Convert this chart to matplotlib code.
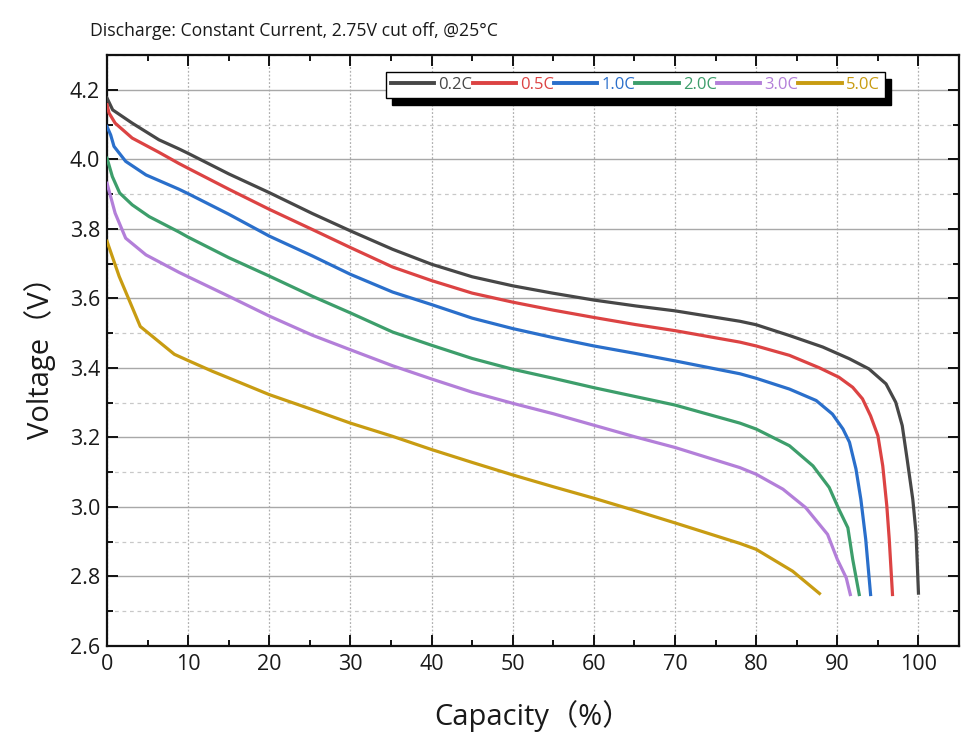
import matplotlib
matplotlib.use("Agg")
import matplotlib.pyplot as plt
from matplotlib.ticker import MultipleLocator, FormatStrFormatter

plt.rcParams['font.family'] = ['Open Sans', 'Noto Sans CJK SC', 'DejaVu Sans']

title = "Discharge: Constant Current, 2.75V cut off, @25°C"
xlabel = "Capacity（%）"
ylabel = "Voltage（V）"

labels = ["0.2C", "0.5C", "1.0C", "2.0C", "3.0C", "5.0C"]
colors = ["#474747", "#dc4343", "#2a6fcb", "#3d9e6b", "#b37fd9", "#c89c12"]

cap02 = [0, 0.7, 3.1, 6.4, 8.85, 10, 15, 20, 25.3, 30, 35.2, 40, 45, 50, 54.9, 60, 65.2, 70, 78, 80, 84.1, 88.2, 91.5, 93.9, 96, 97.2, 98, 98.6, 99.3, 99.7, 100]
v02 = [4.176, 4.142, 4.104, 4.056, 4.03, 4.017, 3.958, 3.904, 3.844, 3.794, 3.741, 3.698, 3.662, 3.636, 3.615, 3.595, 3.578, 3.564, 3.534, 3.524, 3.493, 3.46, 3.426, 3.397, 3.354, 3.301, 3.234, 3.138, 3.022, 2.926, 2.752]

cap05 = [0, 0.25, 1, 3.1, 6.4, 8.85, 10, 15, 20, 25.3, 30, 35.2, 40, 45, 50, 55, 60, 65, 70, 78, 80, 84.1, 87.8, 90.2, 91.9, 93.1, 94.1, 95, 95.6, 96.1, 96.4, 96.8]
v05 = [4.157, 4.133, 4.104, 4.061, 4.02, 3.988, 3.974, 3.914, 3.856, 3.798, 3.746, 3.69, 3.651, 3.615, 3.589, 3.566, 3.545, 3.525, 3.507, 3.474, 3.463, 3.436, 3.40, 3.373, 3.344, 3.311, 3.262, 3.205, 3.118, 3.003, 2.907, 2.748]

cap10 = [0, 0.45, 0.86, 2.3, 4.8, 8.85, 10, 15, 20, 25.3, 30, 35.2, 40, 45, 50, 55, 60, 65, 70, 78, 80, 84.1, 87.4, 89.4, 90.7, 91.5, 92.3, 92.9, 93.5, 94.1]
v10 = [4.094, 4.07, 4.037, 3.994, 3.955, 3.914, 3.901, 3.842, 3.779, 3.722, 3.669, 3.618, 3.582, 3.543, 3.513, 3.487, 3.463, 3.442, 3.42, 3.383, 3.37, 3.339, 3.306, 3.267, 3.224, 3.186, 3.109, 3.022, 2.907, 2.748]

cap20 = [0, 0.66, 1.56, 3.1, 5.2, 8.85, 10, 15, 20, 25.3, 30, 35.2, 40, 45, 50, 55, 60, 65, 70, 78, 80, 84.1, 87, 89, 90.2, 91.3, 91.9, 92.7]
v20 = [4.003, 3.95, 3.903, 3.869, 3.835, 3.791, 3.776, 3.717, 3.664, 3.606, 3.558, 3.503, 3.465, 3.427, 3.396, 3.37, 3.343, 3.318, 3.293, 3.241, 3.224, 3.176, 3.118, 3.056, 2.993, 2.94, 2.849, 2.748]

cap30 = [0, 1, 2.3, 4.8, 8.85, 10, 15, 20, 25.3, 30, 35.2, 40, 45, 50, 55, 60, 65, 70, 78, 80, 83.3, 86.1, 88.8, 90, 91.1, 91.6]
v30 = [3.931, 3.845, 3.773, 3.725, 3.675, 3.662, 3.606, 3.549, 3.494, 3.452, 3.406, 3.368, 3.33, 3.298, 3.268, 3.235, 3.202, 3.171, 3.113, 3.094, 3.051, 2.998, 2.921, 2.849, 2.796, 2.748]

cap50 = [0, 1.5, 4.1, 8.3, 10, 13, 15, 20, 25.3, 30, 35.2, 40, 45, 50, 55, 60, 65, 70, 78, 80, 84.5, 87.8]
v50 = [3.764, 3.663, 3.519, 3.439, 3.421, 3.39, 3.371, 3.323, 3.28, 3.241, 3.203, 3.165, 3.128, 3.092, 3.058, 3.025, 2.99, 2.954, 2.895, 2.878, 2.815, 2.751]

caps = [cap02, cap05, cap10, cap20, cap30, cap50]
volts = [v02, v05, v10, v20, v30, v50]

fig = plt.figure(figsize=(9.8, 7.5), dpi=100)
ax = fig.add_axes([0.1092, 0.1387, 0.8694, 0.788])

for c, v, lab, col in zip(caps, volts, labels, colors):
    ax.plot(c, v, color=col, lw=2.3, label=lab, solid_joinstyle='round', zorder=3)

ax.set_xlim(0, 105)
ax.set_ylim(2.6, 4.3)
ax.xaxis.set_major_locator(MultipleLocator(10))
ax.xaxis.set_minor_locator(MultipleLocator(5))
ax.yaxis.set_major_locator(MultipleLocator(0.2))
ax.yaxis.set_minor_locator(MultipleLocator(0.1))
ax.yaxis.set_major_formatter(FormatStrFormatter('%.1f'))

ax.grid(True, which='major', axis='y', color='#a8a8a8', lw=1.0, ls='-', zorder=0)
ax.grid(True, which='minor', axis='y', color='#c8c8c8', lw=0.9, ls=(0, (3, 3)), zorder=0)
ax.grid(True, which='major', axis='x', color='#b0b0b0', lw=0.9, ls=(0, (1.5, 1.5)), zorder=0)

ax.tick_params(which='both', direction='in', top=True, right=True, width=1.4,
               labelsize=15.5, colors='#111111', labelcolor='#1a1a1a')
ax.tick_params(which='major', length=8)
ax.tick_params(which='minor', length=4.5)
ax.tick_params(axis='x', pad=6)
ax.tick_params(axis='y', pad=5)
for s in ax.spines.values():
    s.set_linewidth(1.6)
    s.set_color('#111111')

ax.set_xlabel(xlabel, fontsize=21, labelpad=18, color='#1a1a1a')
ax.set_ylabel(ylabel, fontsize=21, labelpad=10, color='#1a1a1a')

fig.text(90 / 980, 1 - 31 / 750, title, fontsize=12.7, va='center', ha='left', color='#1a1a1a')

leg = ax.legend(loc='upper left', bbox_to_anchor=(0.3275, 0.971), borderaxespad=0,
                ncol=6, fontsize=12, handlelength=2.6, handletextpad=0.25,
                columnspacing=0.0, borderpad=0.3, frameon=True, fancybox=False,
                edgecolor='black', framealpha=1,
                shadow={'color': 'black', 'alpha': 1, 'ox': 4.5, 'oy': -5})
leg.get_frame().set_linewidth(1.0)
for t, col in zip(leg.get_texts(), colors):
    t.set_color(col)
for h in leg.get_lines():
    h.set_linewidth(2.8)
leg.set_zorder(5)

fig.savefig("out.png", dpi=100)
